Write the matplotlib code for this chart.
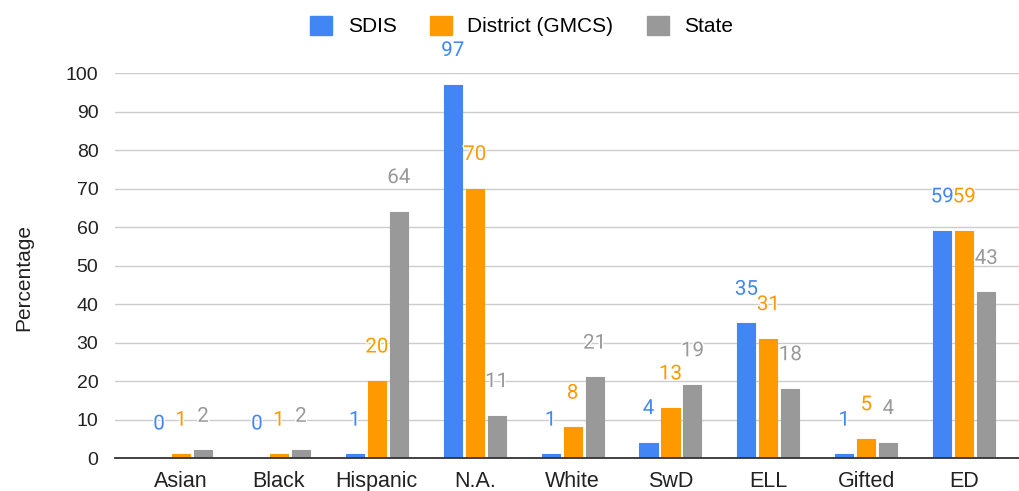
import numpy as np
import matplotlib.pyplot as plt
import matplotlib.patheffects as pe
from matplotlib.patches import Patch

## chart data
categories = ['Asian', 'Black', 'Hispanic', 'N.A.', 'White', 'SwD', 'ELL', 'Gifted', 'ED']
sdis = [0, 0, 1, 97, 1, 4, 35, 1, 59]
district = [1, 1, 20, 70, 8, 13, 31, 5, 59]
state = [2, 2, 64, 11, 21, 19, 18, 4, 43]
series_names = ['SDIS', 'District (GMCS)', 'State']
yticks = [0, 10, 20, 30, 40, 50, 60, 70, 80, 90, 100]

colors = ['#4285F4', '#FF9900', '#999999']

plt.rcParams['font.family'] = ['Liberation Sans', 'DejaVu Sans']

fig = plt.figure(figsize=(10.19, 4.91), dpi=100)
ax = fig.add_axes([0.1129, 0.0672, 0.8871, 0.7841])

x = np.arange(len(categories))
width = 0.184
step = 0.2247

for i, (vals, col) in enumerate(zip([sdis, district, state], colors)):
    pos = x + (i - 1) * step
    bars = ax.bar(pos, vals, width, color=col, edgecolor=col, linewidth=0.8,
                  joinstyle='round', zorder=3)
    # data labels, drawn a fixed distance above each bar top
    for px, v in zip(pos, vals):
        ax.annotate(str(v), (px, v), xytext=(0, 24.5), textcoords='offset points',
                    ha='center', va='center', fontsize=14.8, color=col,
                    family=['Roboto', 'DejaVu Sans'], zorder=4,
                    path_effects=[pe.withStroke(linewidth=2, foreground='white')])

ax.set_xlim(-0.674, 8.56)
ax.set_ylim(0, 100)
ax.set_yticks(yticks)
ax.set_xticks(x)
ax.set_xticklabels(categories)
ax.tick_params(axis='both', length=0, labelcolor='#222222')
ax.tick_params(axis='y', pad=12, labelsize=14)
ax.tick_params(axis='x', pad=9, labelsize=15.5)
ax.grid(axis='y', color='#cccccc', linewidth=1, zorder=0)
for s in ['top', 'right', 'left']:
    ax.spines[s].set_visible(False)
ax.spines['bottom'].set_color('#333333')
ax.spines['bottom'].set_linewidth(1.3)
ax.spines['bottom'].set_zorder(5)
ax.set_ylabel('Percentage', fontsize=15, color='#222222')
ax.yaxis.set_label_coords(-0.09, 0.47)

handles = [Patch(facecolor=c, edgecolor=c, label=n) for c, n in zip(colors, series_names)]
fig.legend(handles=handles, loc='center', bbox_to_anchor=(0.512, 0.947), ncol=3,
           frameon=False, fontsize=15, handlelength=1.05, handleheight=1.05,
           handletextpad=0.75, columnspacing=1.6)

fig.savefig('out.png', dpi=100)
